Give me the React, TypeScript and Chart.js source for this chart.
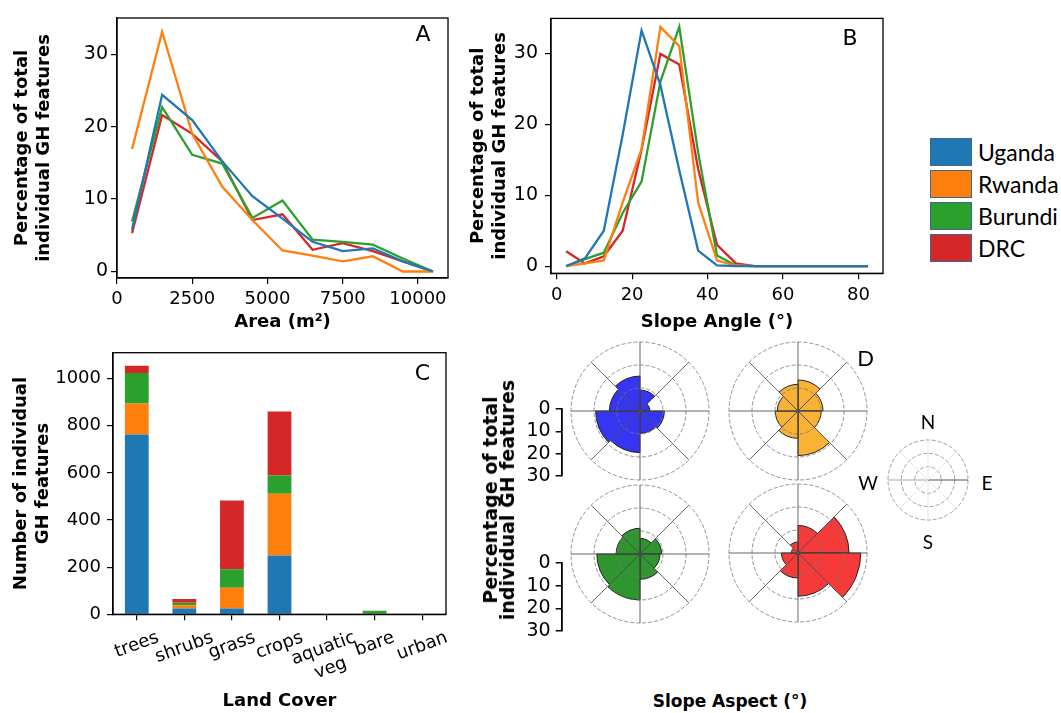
import React, { useEffect, useRef } from 'react';
import { Chart, registerables } from 'chart.js';

Chart.register(...registerables);
Chart.defaults.font.family = "'DejaVu Sans'";
Chart.defaults.color = '#000';

// ---------- data ----------
const COUNTRIES = ['Uganda', 'Rwanda', 'Burundi', 'DRC'];
const LINE_COLORS = ['#1f77b4', '#ff7f0e', '#2ca02c', '#d62728'];
const ROSE_COLORS = ['#3636f2', '#f9b233', '#2f962f', '#f63a3a'];

const AREA_X = [500, 1500, 2500, 3500, 4500, 5500, 6500, 7500, 8500, 9500, 10500];
const AREA_UGANDA = [5.8, 24.4, 20.9, 15.2, 10.4, 7.3, 4.1, 2.8, 3.2, 1.4, 0];
const AREA_RWANDA = [16.9, 33.1, 19.0, 11.7, 7.1, 2.9, 2.2, 1.4, 2.1, 0, 0];
const AREA_BURUNDI = [6.9, 22.7, 16.1, 14.9, 7.4, 9.8, 4.4, 4.1, 3.7, 1.8, 0];
const AREA_DRC = [5.3, 21.6, 19.0, 15.2, 7.1, 7.9, 3.0, 3.9, 2.8, 1.4, 0];
const AREA_TICKS = [0, 2500, 5000, 7500, 10000];

const SLOPE_X = [2.5, 7.5, 12.5, 17.5, 22.5, 27.5, 32.5, 37.5, 42.5, 47.5, 52.5, 57.5, 62.5, 67.5, 72.5, 77.5, 82.5];
const SLOPE_UGANDA = [0, 1.1, 5.0, 18.5, 33.2, 25.5, 13.5, 2.2, 0.1, 0, 0, 0, 0, 0, 0, 0, 0];
const SLOPE_RWANDA = [0, 0.4, 0.8, 9.0, 16.5, 33.7, 31.0, 9.0, 0.8, 0.1, 0, 0, 0, 0, 0, 0, 0];
const SLOPE_BURUNDI = [0, 1.0, 1.9, 7.5, 11.9, 26.0, 33.7, 16.0, 1.5, 0.1, 0, 0, 0, 0, 0, 0, 0];
const SLOPE_DRC = [2.1, 0.4, 1.4, 5.0, 16.4, 29.9, 28.4, 13.7, 3.0, 0.4, 0, 0, 0, 0, 0, 0, 0];
const SLOPE_TICKS = [0, 20, 40, 60, 80];

const PCT_TICKS = [0, 10, 20, 30];

const LAND_COVER = ['trees', 'shrubs', 'grass', 'crops', ['aquatic', 'veg'], 'bare', 'urban'];
const LC_UGANDA = [763, 25, 25, 249, 0, 0, 0];
const LC_RWANDA = [131, 13, 88, 262, 0, 0, 0];
const LC_BURUNDI = [130, 11, 78, 78, 0, 15, 0];
const LC_DRC = [31, 16, 292, 272, 0, 0, 0];
const COUNT_TICKS = [0, 200, 400, 600, 800, 1000];

const ASPECT_DIRS = ['N-NE', 'NE-E', 'E-SE', 'SE-S', 'S-SW', 'SW-W', 'W-NW', 'NW-N'];
const ASPECT_UGANDA = [9.1, 4.3, 10.6, 9.7, 18.1, 19.3, 13.3, 15.2];
const ASPECT_RWANDA = [13.5, 10.9, 10.1, 19.4, 11.9, 9.9, 9.0, 11.6];
const ASPECT_BURUNDI = [6.8, 9.4, 8.7, 11.0, 20.0, 18.8, 10.4, 11.2];
const ASPECT_DRC = [12.0, 22.2, 27.3, 18.8, 10.9, 7.2, 2.9, 4.8];
const ASPECT_SCALE_TICKS = [0, 10, 20, 30];
const COMPASS_EMPTY = [0, 0, 0, 0, 0, 0, 0, 0];

const AREA_SERIES = [AREA_UGANDA, AREA_RWANDA, AREA_BURUNDI, AREA_DRC];
const SLOPE_SERIES = [SLOPE_UGANDA, SLOPE_RWANDA, SLOPE_BURUNDI, SLOPE_DRC];
const LC_SERIES = [LC_UGANDA, LC_RWANDA, LC_BURUNDI, LC_DRC];

// ---------- helpers ----------
const fixedTicks = (vals: number[]) => (s: any) => {
  s.ticks = vals.map((v) => ({ value: v }));
};
const plainLabel = (v: any) => String(v);

const framePlugin = {
  id: 'frame',
  afterDatasetsDraw(chart: any) {
    const { left, top, right, bottom } = chart.chartArea;
    const ctx = chart.ctx;
    ctx.save();
    ctx.strokeStyle = '#000';
    ctx.lineWidth = 1.3;
    ctx.strokeRect(left, top, right - left, bottom - top);
    ctx.restore();
  },
};

const letterPlugin = (t: string, dx: number, dy: number) => ({
  id: 'letter' + t,
  afterDraw(chart: any) {
    const a = chart.chartArea;
    const ctx = chart.ctx;
    ctx.save();
    ctx.font = "22px 'DejaVu Sans'";
    ctx.fillStyle = '#000';
    ctx.textAlign = 'center';
    ctx.textBaseline = 'middle';
    ctx.fillText(t, a.right + dx, a.top + dy);
    ctx.restore();
  },
});

const rotatedLabelsPlugin = {
  id: 'rotLabels',
  afterDraw(chart: any) {
    const ctx = chart.ctx;
    const xs = chart.scales.x;
    const ang = (20 * Math.PI) / 180;
    const lh = 21;
    ctx.save();
    ctx.font = "18px 'DejaVu Sans'";
    ctx.fillStyle = '#000';
    ctx.textAlign = 'center';
    ctx.textBaseline = 'middle';
    chart.data.labels.forEach((lab: any, i: number) => {
      const lines: string[] = Array.isArray(lab) ? lab : [lab];
      const w = Math.max(...lines.map((l) => ctx.measureText(l).width));
      const h = lines.length * lh;
      const bh = w * Math.sin(ang) + h * Math.cos(ang);
      const cx = xs.getPixelForTick(i);
      const cy = xs.top + 6 + 7 + bh / 2;
      ctx.save();
      ctx.translate(cx, cy);
      ctx.rotate(-ang);
      lines.forEach((l, k) => ctx.fillText(l, 0, (k - (lines.length - 1) / 2) * lh));
      ctx.restore();
    });
    ctx.restore();
  },
};

const axisGrid = { drawOnChartArea: false, drawTicks: true, tickLength: 6, color: '#000', lineWidth: 1.2 };
const axisBorder = { display: true, color: '#000', width: 1.3 };
const tickFont = (size: number) => ({ size, family: "'DejaVu Sans'" });
const titleFont = { size: 18, weight: 'bold', family: "'DejaVu Sans'" };

// ---------- chart configs ----------
function makeLine(xs: number[], series: number[][], o: any) {
  return {
    type: 'line',
    data: {
      datasets: series.map((s, i) => ({
        label: COUNTRIES[i],
        data: xs.map((x, j) => ({ x, y: s[j] })),
        borderColor: LINE_COLORS[i],
        backgroundColor: LINE_COLORS[i],
        borderWidth: 2.3,
        pointRadius: 0,
        tension: 0,
        fill: false,
      })),
    },
    options: {
      responsive: false,
      animation: false,
      layout: { padding: { top: o.padTop, right: o.padRight, left: 0, bottom: 0 } },
      plugins: { legend: { display: false }, tooltip: { enabled: false } },
      scales: {
        x: {
          type: 'linear',
          min: o.xMin,
          max: o.xMax,
          afterBuildTicks: fixedTicks(o.xTicks),
          ticks: { font: tickFont(18), color: '#000', padding: 5, maxRotation: 0, autoSkip: false, callback: plainLabel },
          grid: axisGrid,
          border: axisBorder,
          title: { display: true, text: o.xTitle, font: titleFont, color: '#000', padding: { top: 0, bottom: o.xTitlePad } },
          afterFit: (s: any) => { s.height = o.xHeight; },
        },
        y: {
          min: o.yMin,
          max: o.yMax,
          afterBuildTicks: fixedTicks(PCT_TICKS),
          ticks: { font: tickFont(o.yFont), color: '#000', padding: o.yPad, autoSkip: false, callback: plainLabel },
          grid: axisGrid,
          border: axisBorder,
          title: { display: true, text: ['Percentage of total', 'individual GH features'], font: titleFont, color: '#000', padding: { top: o.yTitlePad, bottom: 0 } },
          afterFit: (s: any) => { s.width = o.yWidth; },
        },
      },
    },
    plugins: [framePlugin, letterPlugin(o.letter, o.ldx, o.ldy)],
  };
}

const makeA = () =>
  makeLine(AREA_X, AREA_SERIES, {
    padTop: 18, padRight: 12, xMin: 0, xMax: 11000, xTicks: AREA_TICKS, xTitle: 'Area (m²)', xTitlePad: 2, xHeight: 57,
    yMin: -0.9, yMax: 35, yFont: 19, yPad: 3, yTitlePad: 12, yWidth: 117, letter: 'A', ldx: -25, ldy: 17,
  });

const makeB = () =>
  makeLine(SLOPE_X, SLOPE_SERIES, {
    padTop: 12.7, padRight: 7, xMin: -1.5, xMax: 86.5, xTicks: SLOPE_TICKS, xTitle: 'Slope Angle (°)', xTitlePad: 2, xHeight: 61.7,
    yMin: -1.0, yMax: 34.9, yFont: 19, yPad: 7, yTitlePad: 13, yWidth: 96, letter: 'B', ldx: -33, ldy: 21,
  });

const makeC = () => ({
  type: 'bar',
  data: {
    labels: LAND_COVER,
    datasets: LC_SERIES.map((s, i) => ({
      label: COUNTRIES[i],
      data: s,
      backgroundColor: LINE_COLORS[i],
      borderWidth: 0,
      barPercentage: 0.5,
      categoryPercentage: 1,
    })),
  },
  options: {
    responsive: false,
    animation: false,
    layout: { padding: { top: 22.7, right: 14, left: 0, bottom: 0 } },
    plugins: { legend: { display: false }, tooltip: { enabled: false } },
    scales: {
      x: {
        stacked: true,
        ticks: { display: false },
        grid: { ...axisGrid, offset: false },
        border: axisBorder,
        title: { display: true, text: 'Land Cover', font: titleFont, color: '#000', padding: { top: 0, bottom: 0.5 } },
        afterFit: (s: any) => { s.height = 98.7; },
      },
      y: {
        stacked: true,
        min: 0,
        max: 1110,
        afterBuildTicks: fixedTicks(COUNT_TICKS),
        ticks: { font: tickFont(18), color: '#000', padding: 6, autoSkip: false, callback: plainLabel },
        grid: axisGrid,
        border: axisBorder,
        title: { display: true, text: ['Number of individual', 'GH features'], font: titleFont, color: '#000', padding: { top: 11, bottom: 0 } },
        afterFit: (s: any) => { s.width = 113; },
      },
    },
  },
  plugins: [framePlugin, letterPlugin('C', -23.5, 22), rotatedLabelsPlugin],
});

const makeScaleBar = () => ({
  type: 'scatter',
  data: { datasets: [] },
  options: {
    responsive: false,
    animation: false,
    layout: { padding: { top: 20, bottom: 20, left: 0, right: 0 } },
    plugins: { legend: { display: false }, tooltip: { enabled: false } },
    scales: {
      x: { display: false, min: 0, max: 1 },
      y: {
        reverse: true,
        min: 0,
        max: 30,
        afterBuildTicks: fixedTicks(ASPECT_SCALE_TICKS),
        ticks: { font: tickFont(19), color: '#000', padding: 5, autoSkip: false, callback: plainLabel },
        grid: { drawOnChartArea: false, drawTicks: true, tickLength: 6, color: '#000', lineWidth: 1.5 },
        border: { display: true, color: '#000', width: 1.8 },
        afterFit: (s: any) => { s.width = 46.7; },
      },
    },
  },
});

const makeRose = (vals: number[], color: string, compass = false) => () => ({
  type: 'polarArea',
  data: {
    labels: ASPECT_DIRS,
    datasets: [
      {
        data: vals,
        backgroundColor: compass ? 'rgba(0,0,0,0)' : color,
        borderColor: compass ? 'rgba(0,0,0,0)' : '#222',
        borderWidth: compass ? 0 : 1,
      },
    ],
  },
  options: {
    responsive: false,
    animation: false,
    layout: { padding: 6 },
    plugins: { legend: { display: false }, tooltip: { enabled: false } },
    scales: {
      r: {
        min: 0,
        max: 30,
        startAngle: 0,
        ticks: { display: false, stepSize: 10 },
        grid: { circular: true, color: compass ? '#888' : '#777', lineWidth: 0.8, z: 1 },
        border: { dash: [4, 2] },
        angleLines: {
          display: true,
          lineWidth: compass ? 1 : 0.9,
          color: compass
            ? (c: any) => (c.index === 2 ? '#555' : c.index === 6 ? '#a8a8a8' : '#e6e6e6')
            : '#555',
        },
        pointLabels: { display: false },
      },
    },
  },
});

const makeRoseU = makeRose(ASPECT_UGANDA, ROSE_COLORS[0]);
const makeRoseR = makeRose(ASPECT_RWANDA, ROSE_COLORS[1]);
const makeRoseB = makeRose(ASPECT_BURUNDI, ROSE_COLORS[2]);
const makeRoseD = makeRose(ASPECT_DRC, ROSE_COLORS[3]);
const makeCompass = makeRose(COMPASS_EMPTY, '#000', true);

// ---------- components ----------
function ChartBox({ left, top, width, height, make }: { left: number; top: number; width: number; height: number; make: () => any }) {
  const ref = useRef<HTMLCanvasElement>(null);
  useEffect(() => {
    const chart = new Chart(ref.current as HTMLCanvasElement, make());
    return () => chart.destroy();
  }, [make]);
  return (
    <canvas
      ref={ref}
      width={width}
      height={height}
      style={{ position: 'absolute', left, top, width, height, display: 'block' }}
    />
  );
}

function Label({ x, y, text, size, font, bold }: { x: number; y: number; text: string; size: number; font?: string; bold?: boolean }) {
  return (
    <div
      style={{
        position: 'absolute',
        left: x,
        top: y,
        transform: 'translate(-50%, -50%)',
        fontFamily: font || "'Lato'",
        fontSize: size,
        fontWeight: bold ? 'bold' : 'normal',
        lineHeight: 1,
        whiteSpace: 'nowrap',
        color: '#000',
      }}
    >
      {text}
    </div>
  );
}

const LEGEND_TOPS = [138, 170, 202, 234];

export default function App() {
  useEffect(() => {
    document.body.style.margin = '0';
  }, []);
  return (
    <div style={{ position: 'absolute', left: 0, top: 0, width: 1061, height: 713, background: '#fff', overflow: 'hidden' }}>
      <ChartBox left={0} top={0} width={460} height={335} make={makeA} />
      <ChartBox left={455} top={0} width={435} height={335} make={makeB} />
      <ChartBox left={0} top={330} width={460} height={383} make={makeC} />

      <ChartBox left={515} top={389} width={60} height={107} make={makeScaleBar} />
      <ChartBox left={515} top={543} width={60} height={108} make={makeScaleBar} />

      <ChartBox left={565} top={336} width={150} height={150} make={makeRoseU} />
      <ChartBox left={723} top={336} width={150} height={150} make={makeRoseR} />
      <ChartBox left={565} top={479} width={150} height={150} make={makeRoseB} />
      <ChartBox left={723} top={478} width={150} height={150} make={makeRoseD} />
      <ChartBox left={882} top={434} width={92} height={92} make={makeCompass} />

      {COUNTRIES.map((c, i) => (
        <React.Fragment key={c}>
          <div
            style={{
              position: 'absolute',
              left: 930,
              top: LEGEND_TOPS[i],
              width: 42,
              height: 28,
              boxSizing: 'border-box',
              background: LINE_COLORS[i],
              border: '1.5px solid #3f6790',
            }}
          />
          <div
            style={{
              position: 'absolute',
              left: 978,
              top: LEGEND_TOPS[i] + 14,
              transform: 'translateY(-50%)',
              fontFamily: "'Lato'",
              fontSize: 23,
              lineHeight: 1,
              whiteSpace: 'nowrap',
              color: '#000',
            }}
          >
            {c}
          </div>
        </React.Fragment>
      ))}

      <Label x={865.5} y={357.5} text="D" size={22} />
      <Label x={928} y={421} text="N" size={19} />
      <Label x={928} y={541} text="S" size={19} />
      <Label x={868} y={482} text="W" size={19} />
      <Label x={987} y={482} text="E" size={19} />
      <Label x={730} y={701} text="Slope Aspect (°)" size={17} font="'DejaVu Sans'" bold />

      <div
        style={{
          position: 'absolute',
          left: 499,
          top: 500,
          transform: 'translate(-50%, -50%) rotate(-90deg)',
          fontFamily: "'DejaVu Sans'",
          fontWeight: 'bold',
          fontSize: 19,
          lineHeight: '17px',
          textAlign: 'center',
          whiteSpace: 'nowrap',
          color: '#000',
        }}
      >
        Percentage of total
        <br />
        individual GH features
      </div>
    </div>
  );
}
